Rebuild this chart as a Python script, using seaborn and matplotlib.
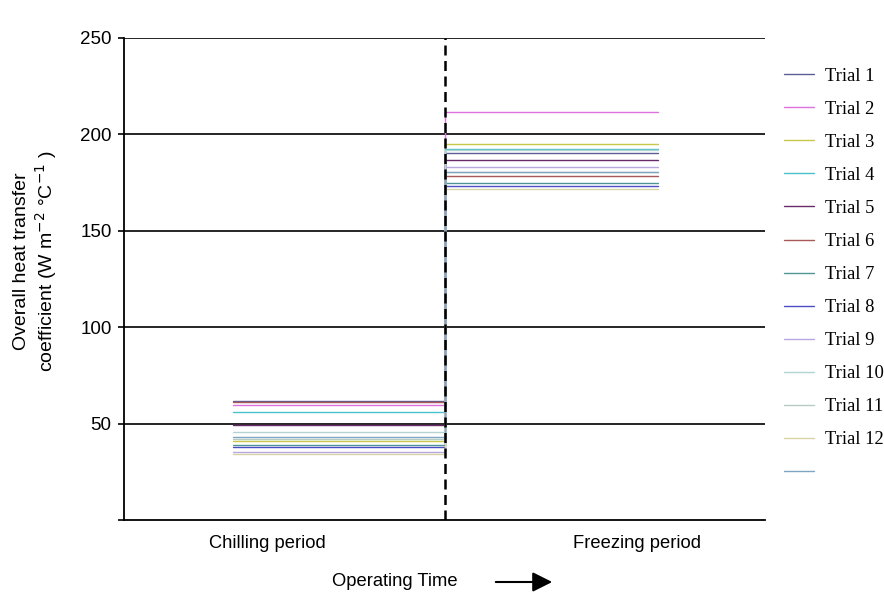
import numpy as np
import pandas as pd
import matplotlib
matplotlib.use("Agg")
import matplotlib.pyplot as plt
import seaborn as sns

# ---- data ----
trials = ["Trial 1", "Trial 2", "Trial 3", "Trial 4", "Trial 5", "Trial 6",
          "Trial 7", "Trial 8", "Trial 9", "Trial 10", "Trial 11", "Trial 12", " "]
chilling = [61.7, 59.6, 40.8, 55.9, 49.2, 61.0, 38.9, 37.7, 35.4, 45.8, 42.2, 34.4, 43.2]
freezing = [190.5, 211.6, 194.9, 192.3, 186.9, 178.6, 175.0, 173.4, 182.9, 192.0, 180.5, 171.5, 180.3]
colors = ["#5c5c98", "#e070e0", "#c8c84a", "#48c2ca", "#6a2a6a", "#a85858",
          "#4e9696", "#4c4cc4", "#b8a8e0", "#b4d4d4", "#b4ccc4", "#d8d4a8", "#7ea6c2"]
period_labels = ["Chilling period", "Freezing period"]
yticks = [0, 50, 100, 150, 200, 250]

rows = []
for t, c, f in zip(trials, chilling, freezing):
    for xv, yv in [(0, c), (1, c), (1, f), (2, f)]:
        rows.append({"x": xv, "y": yv, "trial": t})
df = pd.DataFrame(rows)

sns.set_theme(style="white")
plt.rcParams["font.family"] = ["Liberation Sans", "DejaVu Sans"]
plt.rcParams["text.color"] = "black"
plt.rcParams["xtick.color"] = "black"
plt.rcParams["ytick.color"] = "black"
plt.rcParams["axes.labelcolor"] = "black"

fig = plt.figure(figsize=(8.84, 5.96), dpi=100)
ax = fig.add_axes([124/884, 1-520/596, (765-124)/884, (520-38)/596])

sns.lineplot(data=df, x="x", y="y", hue="trial", hue_order=trials,
             palette=colors, estimator=None, sort=False, lw=1.0, ax=ax,
             legend=True)

ax.axvline(1, color="black", lw=1.8, ls=(0, (4, 2.2)), zorder=5)

ax.set_xlim(-0.513, 2.504)
ax.set_ylim(0, 250)
ax.set_yticks(yticks)
ax.set_yticklabels([""] + [str(v) for v in yticks[1:]], fontsize=13.5)
for v in yticks[1:]:
    ax.axhline(v, color="black", lw=1.2, zorder=1)

ax.set_xticks([0.16, 1.90])
ax.set_xticklabels(period_labels, fontsize=13.2)
ax.set_xticks([1], minor=True)
ax.tick_params(axis="x", which="major", length=0, pad=11)
ax.tick_params(axis="x", which="minor", length=7, direction="inout", width=1.2, color="black")
ax.tick_params(axis="y", length=4, width=1.2, color="black", direction="out", pad=5, left=True)

for s in ["top", "right"]:
    ax.spines[s].set_visible(False)
for s in ["left", "bottom"]:
    ax.spines[s].set_color("black")
    ax.spines[s].set_linewidth(1.3)

ax.set_xlabel("")
ax.set_ylabel("")
fig.text(22/884, 1-261/596, "Overall heat transfer", rotation=90, ha="center", va="center",
         fontsize=14)
fig.text(46/884, 1-261/596, "coefficient (W m$^{-2}$ °C$^{-1}$ )", rotation=90,
         ha="center", va="center", fontsize=14)

handles, labels = ax.get_legend_handles_labels()
ax.get_legend().remove()
fig.legend(handles, labels, loc="upper left", bbox_to_anchor=(767/884, 1-51/596),
           frameon=False, prop={"family": "Liberation Serif", "size": 13.3},
           handlelength=1.67, labelspacing=0.87, handletextpad=0.55)

fig.text(395/884, 1-582/596, "Operating Time", ha="center", va="center", fontsize=13.2)
fig.add_artist(matplotlib.patches.FancyArrowPatch(
    (493/884, 1-582/596), (555/884, 1-582/596), transform=fig.transFigure,
    arrowstyle="-|>,head_length=8,head_width=4", color="black", lw=1.5,
    mutation_scale=1.5))

fig.savefig("out.png", dpi=100)
